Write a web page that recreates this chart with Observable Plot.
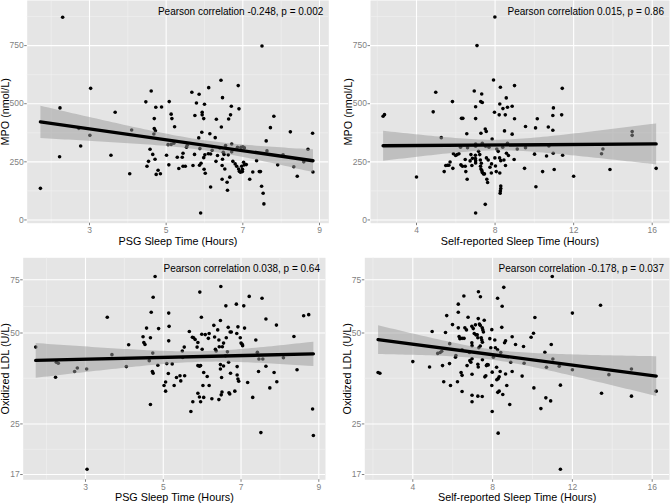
<!DOCTYPE html>
<html><head><meta charset="utf-8">
<script src="https://cdn.jsdelivr.net/npm/d3@7"></script>
<script src="https://cdn.jsdelivr.net/npm/@observablehq/plot@0.6"></script>
<style>
body{margin:0;background:#fff;}
#fig{position:relative;width:670px;height:503px;overflow:hidden;background:#fff;}
#fig svg{position:absolute;}
</style></head><body><div id="fig"></div>
<script>
// PSG sleep time (hours) vs MPO (nmol/L)
const psgVsMpo = [[2.30,872],[1.72,136],[2.23,482],[2.22,272],[2.72,394],[2.77,318],[3.01,364],[3.03,566],[3.56,278],[3.67,463],[4.05,199],[4.10,387],[4.47,508],[4.61,555],[4.50,231],[4.54,252],[4.58,304],[4.65,282],[4.69,436],[4.69,393],[4.68,370],[4.72,384],[4.73,485],[4.88,486],[4.71,261],[4.74,196],[4.79,214],[4.85,199],[5.01,278],[5.05,324],[5.08,509],[5.13,455],[5.15,436],[5.13,325],[5.07,237],[5.22,401],[5.29,270],[5.33,221],[5.42,270],[5.44,287],[5.44,231],[5.50,231],[5.53,313],[5.55,321],[5.67,549],[5.70,234],[5.75,449],[5.74,282],[5.79,503],[5.86,541],[5.85,353],[5.88,307],[5.87,235],[5.91,244],[5.90,30],[5.93,377],[5.94,463],[5.94,452],[5.98,436],[6.00,498],[5.98,268],[6.01,280],[5.99,218],[6.02,201],[6.11,569],[6.10,285],[6.14,371],[6.16,284],[6.16,142],[6.28,354],[6.31,433],[6.30,252],[6.34,277],[6.43,601],[6.44,400],[6.47,526],[6.47,261],[6.46,175],[6.46,234],[6.49,291],[6.51,282],[6.53,219],[6.60,128],[6.59,162],[6.62,280],[6.63,434],[6.66,184],[6.68,452],[6.70,489],[6.71,327],[6.71,293],[6.88,578],[6.90,478],[6.74,252],[6.80,241],[6.84,231],[6.86,313],[6.89,219],[6.91,209],[6.94,205],[6.97,231],[6.99,218],[7.02,248],[7.04,237],[7.04,310],[6.99,208],[7.09,238],[7.18,175],[7.26,206],[7.36,255],[7.43,208],[7.46,208],[7.50,748],[7.49,145],[7.53,115],[7.55,69],[7.61,340],[7.63,297],[7.72,397],[7.81,446],[7.91,237],[8.24,379],[8.33,229],[8.42,188],[8.59,250],[8.70,304],[8.82,373],[8.83,206],[8.05,280],[6.40,310],[6.55,320],[6.95,312],[7.00,315],[5.20,330],[6.20,300]];

// Self-reported sleep time (hours) vs MPO (nmol/L)
const selfVsMpo = [[2.30,446],[2.37,453],[4.00,185],[4.85,465],[4.98,549],[5.26,354],[5.41,208],[5.49,234],[5.58,235],[5.65,235],[5.71,249],[5.83,509],[5.85,222],[5.88,285],[5.99,277],[6.07,281],[6.16,285],[6.29,437],[6.36,437],[6.24,313],[6.26,237],[6.34,231],[6.48,231],[6.48,260],[6.51,208],[6.58,175],[6.56,371],[6.60,311],[6.73,254],[6.77,281],[6.85,265],[6.82,234],[6.94,555],[7.01,436],[7.01,487],[7.01,317],[7.01,327],[7.00,278],[7.00,264],[7.01,255],[7.01,245],[7.01,30],[7.08,750],[7.16,295],[7.22,281],[7.27,509],[7.32,542],[7.35,505],[7.28,373],[7.25,258],[7.30,244],[7.26,231],[7.28,219],[7.33,212],[7.35,204],[7.41,198],[7.46,198],[7.35,330],[7.50,391],[7.55,381],[7.50,67],[7.56,267],[7.65,258],[7.58,175],[7.62,161],[7.52,317],[7.69,313],[7.74,227],[7.81,202],[7.82,241],[7.85,348],[7.92,602],[7.97,463],[7.99,873],[7.99,267],[8.02,232],[8.06,208],[8.09,305],[8.16,295],[8.21,452],[8.24,499],[8.27,571],[8.23,267],[8.29,255],[8.24,202],[8.29,146],[8.29,135],[8.27,125],[8.26,115],[8.39,313],[8.40,479],[8.45,258],[8.48,383],[8.52,452],[8.53,234],[8.57,525],[8.58,287],[8.63,485],[8.63,330],[8.68,277],[8.87,489],[8.87,369],[8.97,260],[8.99,435],[8.99,578],[9.13,305],[9.50,222],[9.55,402],[9.55,311],[10.01,283],[10.06,396],[10.08,143],[10.15,435],[10.42,208],[10.62,275],[10.71,400],[10.74,318],[10.94,386],[10.97,482],[10.94,449],[10.96,287],[11.01,217],[11.42,566],[11.39,452],[11.44,278],[12.00,188],[13.42,285],[13.49,305],[13.85,217],[14.98,380],[14.98,364],[16.20,222]];

// PSG sleep time (hours) vs oxidized LDL (U/L)
const psgVsOxldl = [[1.72,44.9],[2.23,35.7],[2.25,40.0],[2.30,39.7],[2.72,37.3],[2.79,38.3],[3.03,38.0],[3.04,17.7],[3.56,56.4],[3.68,42.4],[4.05,38.7],[4.11,45.7],[4.48,48.6],[4.50,46.5],[4.53,45.8],[4.57,51.9],[4.64,40.5],[4.67,48.2],[4.69,58.6],[4.67,29.0],[4.73,42.9],[4.74,65.7],[4.72,37.3],[4.74,36.8],[4.79,76.9],[4.88,51.7],[4.86,39.1],[5.02,33.5],[5.06,34.4],[5.06,32.1],[5.09,39.6],[5.13,36.7],[5.14,58.2],[5.15,52.6],[5.14,47.1],[5.23,39.5],[5.28,33.5],[5.34,35.6],[5.43,36.1],[5.45,34.7],[5.49,43.6],[5.54,44.9],[5.55,36.1],[5.67,50.6],[5.71,27.5],[5.75,48.4],[5.78,48.2],[5.76,29.6],[5.82,47.6],[5.87,44.9],[5.89,46.5],[5.89,39.0],[5.93,38.8],[5.96,39.0],[5.89,31.6],[5.93,30.7],[5.94,68.3],[5.96,29.6],[5.98,56.4],[5.99,49.5],[6.00,44.2],[6.02,33.5],[6.04,30.6],[6.04,37.0],[6.08,49.4],[6.13,35.9],[6.16,48.0],[6.18,33.5],[6.18,49.8],[6.25,30.3],[6.30,53.0],[6.32,48.5],[6.34,44.2],[6.36,43.6],[6.40,51.2],[6.43,30.1],[6.43,47.4],[6.44,45.0],[6.47,55.0],[6.47,38.0],[6.47,39.3],[6.48,71.3],[6.50,35.6],[6.49,31.2],[6.51,31.9],[6.52,45.0],[6.55,46.3],[6.55,38.9],[6.61,61.5],[6.62,48.2],[6.65,43.3],[6.67,52.2],[6.72,50.4],[6.75,50.4],[6.68,40.0],[6.69,31.7],[6.71,31.4],[6.73,36.8],[6.84,32.1],[6.88,62.3],[6.89,49.8],[6.92,52.4],[6.90,36.3],[6.92,35.2],[6.94,34.6],[6.90,38.7],[6.98,48.2],[7.00,46.3],[7.03,45.9],[7.04,45.4],[7.07,61.5],[7.09,51.9],[7.17,34.3],[7.21,66.1],[7.30,30.6],[7.38,47.4],[7.42,43.2],[7.46,41.0],[7.45,37.3],[7.51,23.4],[7.54,65.2],[7.56,41.0],[7.64,55.6],[7.64,38.8],[7.74,32.9],[7.85,37.0],[7.91,53.1],[7.92,34.5],[8.09,41.4],[8.36,48.7],[8.44,37.8],[8.61,57.0],[8.74,57.5],[8.84,28.0],[8.86,22.9],[5.50,41.5],[6.60,42.0]];

// Self-reported sleep time (hours) vs oxidized LDL (U/L)
const selfVsOxldl = [[2.26,37.0],[2.35,36.8],[4.00,40.2],[4.84,38.6],[4.97,50.6],[5.25,42.8],[5.37,43.1],[5.45,43.5],[5.49,39.0],[5.55,34.5],[5.64,50.2],[5.70,57.1],[5.84,39.6],[5.85,46.1],[5.89,33.5],[5.99,53.3],[6.14,41.6],[6.16,42.1],[6.24,34.5],[6.28,52.0],[6.28,62.3],[6.28,58.6],[6.32,48.7],[6.36,47.9],[6.42,37.0],[6.47,36.2],[6.47,48.0],[6.57,48.0],[6.47,44.0],[6.47,32.0],[6.56,66.3],[6.61,52.0],[6.69,51.2],[6.72,39.0],[6.77,56.4],[6.84,43.1],[6.86,40.5],[6.91,40.0],[6.97,41.1],[6.96,52.6],[7.03,51.7],[6.96,46.4],[6.97,45.4],[6.97,36.5],[6.97,31.1],[6.97,29.6],[7.08,49.8],[7.16,49.3],[7.14,53.2],[7.23,49.3],[7.26,48.2],[7.26,39.4],[7.28,38.6],[7.26,30.9],[7.28,55.8],[7.29,68.5],[7.31,44.7],[7.34,53.5],[7.38,53.0],[7.38,45.3],[7.39,65.9],[7.43,48.2],[7.46,47.4],[7.49,46.6],[7.48,30.8],[7.48,52.0],[7.51,51.2],[7.54,50.4],[7.49,40.8],[7.58,55.1],[7.61,35.8],[7.66,36.1],[7.69,39.0],[7.73,39.3],[7.78,39.2],[7.86,47.9],[7.91,44.7],[7.96,51.3],[7.96,33.5],[7.98,37.1],[7.98,27.5],[8.04,41.6],[8.11,47.4],[8.14,44.7],[8.25,44.0],[8.20,38.5],[8.25,65.2],[8.21,35.0],[8.28,35.3],[8.26,31.8],[8.33,32.1],[8.28,23.3],[8.33,35.8],[8.38,37.3],[8.41,43.1],[8.46,52.2],[8.48,61.3],[8.51,31.3],[8.56,70.8],[8.60,46.4],[8.65,47.1],[8.65,36.6],[8.71,33.5],[8.86,29.0],[8.91,40.0],[8.98,37.3],[8.98,48.6],[9.15,45.8],[9.48,36.0],[9.55,45.1],[9.58,39.7],[9.93,48.4],[10.05,49.9],[10.07,32.9],[10.12,56.3],[10.42,28.1],[10.62,43.2],[10.67,30.5],[10.70,38.5],[10.91,29.8],[10.94,45.8],[10.99,76.9],[11.02,41.0],[11.34,38.8],[11.40,33.6],[11.40,17.7],[12.00,58.2],[12.00,37.8],[13.41,61.8],[13.46,31.6],[13.83,36.4],[14.96,38.0],[14.96,30.9],[16.20,32.1]];

// Tick labels
const psgTicks = [3, 5, 7, 9];
const psgMinor = [2, 4, 6, 8];
const selfTicks = [4, 8, 12, 16];
const selfMinor = [2, 6, 10, 14];
const mpoTicks = [0, 250, 500, 750];
const mpoMinor = [125, 375, 625, 875];
const oxTicks = [17, 25, 50, 75];
const oxMinor = [20.6, 35.4, 61.2];

// Texts
const xTitles = ["PSG Sleep Time (Hours)", "Self-reported Sleep Time (Hours)"];
const yTitles = ["MPO (nmol/L)", "Oxidized LDL (U/L)"];
const notes = ["Pearson correlation -0.248, p = 0.002", "Pearson correlation 0.015, p = 0.86",
               "Pearson correlation 0.038, p = 0.64", "Pearson correlation -0.178, p = 0.037"];

const FONT = "'Liberation Sans', Arial, Helvetica, sans-serif";
const fig = document.getElementById("fig");

function panel(o) {
  const data = o.pts.map(([x, y]) => ({x, y}));
  const svg = Plot.plot({
    width: o.width, height: o.height,
    marginLeft: o.m[0], marginRight: o.m[1], marginTop: o.m[2], marginBottom: o.m[3],
    style: {fontFamily: FONT, fontSize: "8.5px", background: "transparent", overflow: "visible"},
    x: {domain: o.xDomain},
    y: {domain: o.yDomain, type: o.yType || "linear"},
    marks: [
      Plot.frame({fill: "#E5E5E5", stroke: "none"}),
      Plot.gridX(o.xMinor, {stroke: "#F2F2F2", strokeOpacity: 1, strokeWidth: 0.6}),
      Plot.gridY(o.yMinor, {stroke: "#F2F2F2", strokeOpacity: 1, strokeWidth: 0.6}),
      Plot.gridX(o.xTicks, {stroke: "#FFFFFF", strokeOpacity: 1, strokeWidth: 1.1}),
      Plot.gridY(o.yTicks, {stroke: "#FFFFFF", strokeOpacity: 1, strokeWidth: 1.1}),
      Plot.dot(data, {x: "x", y: "y", r: 1.8, fill: "black", stroke: "none"}),
      Plot.linearRegressionY(data, {x: "x", y: "y", ci: 0.95, stroke: "black", strokeWidth: 3.4,
        fill: "#999999", fillOpacity: 0.5}),
      Plot.axisX(o.xTicks, {tickSize: 2.5, tickPadding: 1.25, label: null, color: "#7F7F7F", fontSize: 8.5}),
      Plot.axisY(o.yTicks, {tickSize: 2.5, tickPadding: 1, label: null, color: "#7F7F7F", fontSize: 8.5,
        tickFormat: d3.format("d")}),
      Plot.text([o.note], {text: d => d, frameAnchor: "top-right", textAnchor: "end", lineAnchor: "top",
        dx: -5.5, dy: 7, fontSize: 10, fill: "black"}),
      Plot.text([o.xTitle], {text: d => d, frameAnchor: "bottom", textAnchor: "middle", lineAnchor: "middle",
        dy: o.xDy, fontSize: 10.8, fill: "black"}),
      Plot.text([o.yTitle], {text: d => d, frameAnchor: "left", textAnchor: "middle", lineAnchor: "middle",
        rotate: -90, dx: o.yDx, fontSize: 10.8, fill: "black"})
    ]
  });
  svg.style.left = o.left + "px";
  svg.style.top = o.top + "px";
  fig.appendChild(svg);
}

panel({pts: psgVsMpo, left: 0, top: 0, width: 335, height: 250, m: [26.7, 6.7, 0, 27.3],
  xDomain: [1.375, 9.243], yDomain: [-14, 944], xTicks: psgTicks, xMinor: psgMinor,
  yTicks: mpoTicks, yMinor: mpoMinor, note: notes[0], xTitle: xTitles[0], yTitle: yTitles[0], yDx: -22, xDy: 18.3});
panel({pts: selfVsMpo, left: 335, top: 0, width: 335, height: 250, m: [35, 1, 0, 27.3],
  xDomain: [1.658, 16.88], yDomain: [-14, 944], xTicks: selfTicks, xMinor: selfMinor,
  yTicks: mpoTicks, yMinor: mpoMinor, note: notes[1], xTitle: xTitles[1], yTitle: yTitles[0], yDx: -22.2, xDy: 18.3});
panel({pts: psgVsOxldl, left: 0, top: 250, width: 335, height: 253, m: [22.7, 10, 7.3, 23.7],
  xDomain: [1.398, 9.172], yDomain: [16.33, 88.7], yType: "log", xTicks: psgTicks, xMinor: psgMinor,
  yTicks: oxTicks, yMinor: oxMinor, note: notes[2], xTitle: xTitles[0], yTitle: yTitles[1], yDx: -17.5, xDy: 18});
panel({pts: selfVsOxldl, left: 335, top: 250, width: 335, height: 253, m: [29.3, 1, 7.3, 23.7],
  xDomain: [1.594, 16.867], yDomain: [16.33, 88.7], yType: "log", xTicks: selfTicks, xMinor: selfMinor,
  yTicks: oxTicks, yMinor: oxMinor, note: notes[3], xTitle: xTitles[1], yTitle: yTitles[1], yDx: -17, xDy: 18});
</script>
</body></html>
